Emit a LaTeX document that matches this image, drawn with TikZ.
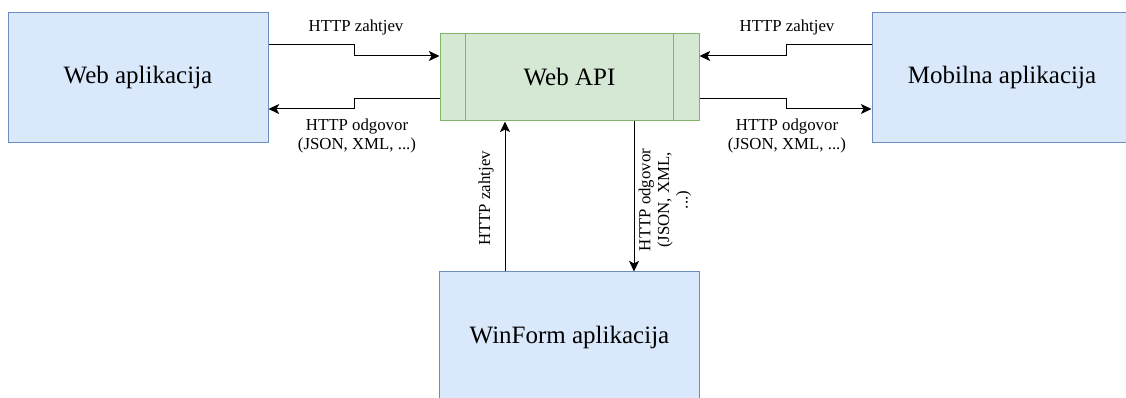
\documentclass[tikz,border=0pt]{standalone}
\usepackage{fontspec}
\setmainfont{Liberation Serif}
\usetikzlibrary{arrows.meta}
\definecolor{appfill}{HTML}{DAE8FC}
\definecolor{appline}{HTML}{6C8EBF}
\definecolor{apifill}{HTML}{D5E8D4}
\definecolor{apiline}{HTML}{82B366}

\begin{document}
\begin{tikzpicture}[x=0.75pt,y=-0.75pt,
	app/.style={draw=appline, line width=0.75pt, fill=appfill, minimum width=195pt, minimum height=97.5pt, font=\fontsize{18.75}{22}\selectfont},
	api/.style={draw=apiline, line width=0.75pt, fill=apifill, minimum width=194.25pt, minimum height=65.25pt, font=\fontsize{18.75}{22}\selectfont},
	lbl/.style={font=\fontsize{12.6}{14}\selectfont, align=center, inner sep=0pt},
	arr/.style={line width=0.75pt, -{Stealth[length=8pt,width=7.5pt,inset=2pt]}}]
			\useasboundingbox (0,0) rectangle (1126,398);
			\clip (0,0) rectangle (1126,398);
			\node[app] (webapp)  at (138,77.5)   {Web aplikacija};
			\node[app] (mobapp)  at (1002,77.5)  {Mobilna aplikacija};
			\node[api] (webapi)  at (569.5,77.5) {Web API};
			\node[app] (winapp)  at (569.5,337)  {WinForm aplikacija};
			\draw[apiline, line width=0.75pt] ([xshift=19.5pt]webapi.north west) -- ([xshift=19.5pt]webapi.south west);
			\draw[apiline, line width=0.75pt] ([xshift=-19.5pt]webapi.north east) -- ([xshift=-19.5pt]webapi.south east);
			% web aplikacija <-> web api
			\draw[arr] (webapp.east |- 0,45) -- (354,45) -- (354,56) -- (webapi.west |- 0,56);
			\draw[arr] (webapi.west |- 0,99) -- (354,99) -- (354,109) -- (webapp.east |- 0,109);
			\node[lbl] (reqweb) at (356,27) {HTTP zahtjev};
			\node[lbl] (resweb) at (357,136) {HTTP odgovor\\(JSON, XML, ...)};
			% mobilna aplikacija <-> web api
			\draw[arr] (mobapp.west |- 0,45) -- (786,45) -- (786,56) -- (webapi.east |- 0,56);
			\draw[arr] (webapi.east |- 0,99) -- (786,99) -- (786,109) -- (mobapp.west |- 0,109);
			\node[lbl] (reqmob) at (787,27) {HTTP zahtjev};
			\node[lbl] (resmob) at (787,136) {HTTP odgovor\\(JSON, XML, ...)};
			% winform aplikacija <-> web api
			\draw[arr] (winapp.north -| 505,0) -- (webapi.south -| 505,0);
			\draw[arr] (webapi.south -| 634,0) -- (winapp.north -| 634,0);
			\node[lbl, rotate=90] (reqwin) at (486,198.5) {HTTP zahtjev};
			\node[lbl, rotate=90] (reswin) at (665,200) {HTTP odgovor\\(JSON, XML,\\...)};
\end{tikzpicture}
\end{document}
